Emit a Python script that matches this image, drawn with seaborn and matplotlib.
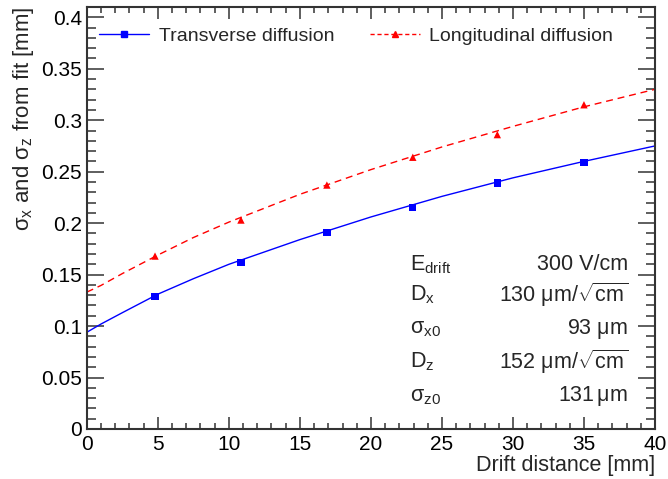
import matplotlib
matplotlib.use("Agg")
import matplotlib.pyplot as plt
from matplotlib.lines import Line2D
from matplotlib.ticker import MultipleLocator
import seaborn as sns
import pandas as pd

# measured widths at each drift distance
drift_mm = [4.8, 10.85, 16.9, 22.95, 28.9, 35.0]
sigma_x = [0.129, 0.162, 0.191, 0.2155, 0.239, 0.259]
sigma_z = [0.168, 0.203, 0.237, 0.264, 0.286, 0.315]

# fit curves
fit_x = [0, 1, 2.5, 5, 7.5, 10, 15, 20, 25, 30, 35, 40]
fit_sx = [0.094, 0.102, 0.113, 0.131, 0.146, 0.160, 0.184, 0.206, 0.226, 0.244, 0.260, 0.275]
fit_sz = [0.133, 0.1395, 0.151, 0.169, 0.186, 0.201, 0.228, 0.252, 0.274, 0.294, 0.313, 0.330]

par_names = [r"E$_{drift}$", r"D$_{x}$", r"$\sigma_{x0}$", r"D$_{z}$", r"$\sigma_{z0}$"]
par_values = ["300 V/cm", r"130 $\mu$m/$\sqrt{cm}$", r"93 $\mu$m",
              r"152 $\mu$m/$\sqrt{cm}$", r"131$\,\mu$m"]

sns.set_style("ticks")
plt.rcParams['font.family'] = ['Liberation Sans', 'DejaVu Sans']
plt.rcParams['mathtext.fontset'] = 'custom'
plt.rcParams['mathtext.rm'] = 'Liberation Sans'
plt.rcParams['mathtext.it'] = 'Liberation Sans:italic'
plt.rcParams['mathtext.sf'] = 'Liberation Sans'
plt.rcParams['mathtext.default'] = 'regular'

fig = plt.figure(figsize=(6.68, 4.79), dpi=100)
ax = fig.add_axes([0.130, 0.1044, 0.8505, 0.881])

pts = pd.DataFrame({"x": drift_mm, "sx": sigma_x, "sz": sigma_z})
fit = pd.DataFrame({"x": fit_x, "sx": fit_sx, "sz": fit_sz})

sns.lineplot(data=fit, x="x", y="sx", ax=ax, color="blue", lw=1.0)
sns.lineplot(data=fit, x="x", y="sz", ax=ax, color="red", lw=1.0)
ax.lines[-1].set_dashes([5, 3.5])
sns.scatterplot(data=pts, x="x", y="sx", ax=ax, color="blue", marker="s", s=28, edgecolor="none")
sns.scatterplot(data=pts, x="x", y="sz", ax=ax, color="red", marker="^", s=28, edgecolor="none")

ax.set_xlim(0, 40)
ax.set_ylim(0, 0.41)
ax.xaxis.set_major_locator(MultipleLocator(5))
ax.xaxis.set_minor_locator(MultipleLocator(1))
ax.yaxis.set_major_locator(MultipleLocator(0.05))
ax.yaxis.set_minor_locator(MultipleLocator(0.01))
ax.yaxis.set_major_formatter(matplotlib.ticker.FuncFormatter(lambda v, p: f"{v:g}"))
ax.tick_params(axis="both", which="both", direction="in", top=True, right=True,
               colors="#333333", labelcolor="black", labelsize=15, width=1.1)
ax.tick_params(axis="y", which="major", length=12)
ax.tick_params(axis="y", which="minor", length=6.5)
ax.tick_params(axis="x", which="major", length=8.6)
ax.tick_params(axis="x", which="minor", length=4.3)
ax.tick_params(axis="x", pad=4)
for sp in ax.spines.values():
    sp.set_linewidth(1.5)
    sp.set_color("#333333")

ax.set_xlabel("Drift distance [mm]", fontsize=15.5, loc="right", labelpad=1)
ax.set_ylabel(r"$\sigma_{x}$ and $\sigma_{z}$ from fit [mm]",
              fontsize=16, loc="top", labelpad=4)

handles = [Line2D([], [], color="blue", lw=1.0, marker="s", markersize=5),
           Line2D([], [], color="red", lw=1.0, ls=(0, (3, 2)), marker="^", markersize=5)]
ax.legend(handles, ["Transverse diffusion", "Longitudinal diffusion"], ncol=2,
          loc="upper left", bbox_to_anchor=(-0.009, 0.993), frameon=False, fontsize=14,
          handlelength=2.55, handletextpad=0.5, columnspacing=1.85)

row_y = [0.389, 0.318, 0.237, 0.159, 0.077]
for name, val, yy in zip(par_names, par_values, row_y):
    ax.text(0.568, yy, name, transform=ax.transAxes, fontsize=15.5, va="center", ha="left")
    ax.text(0.952, yy, val, transform=ax.transAxes, fontsize=15.5, va="center", ha="right")

fig.savefig("out.png", dpi=100)
